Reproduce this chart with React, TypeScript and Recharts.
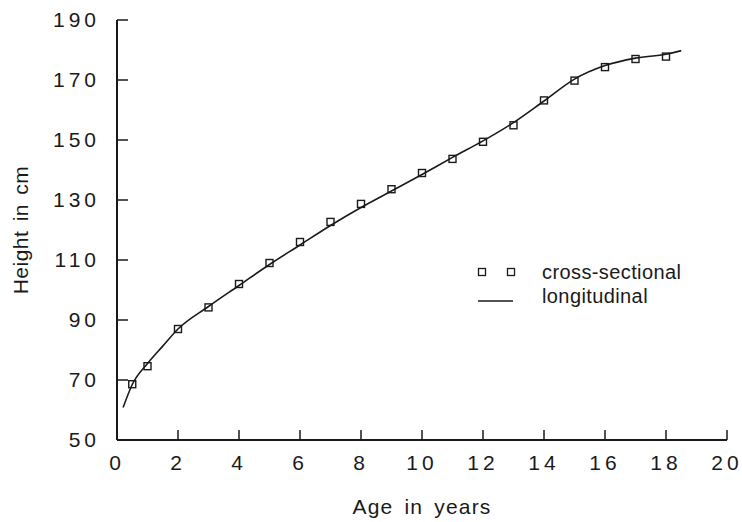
import { ComposedChart, Line, Scatter, XAxis, YAxis, Legend } from 'recharts';

// cross-sectional means (squares)
const crossAges = [0.5, 1, 2, 3, 4, 5, 6, 7, 8, 9, 10, 11, 12, 13, 14, 15, 16, 17, 18];
const crossHeights = [68.6, 74.6, 87, 94.2, 102, 109, 116, 122.7, 128.7, 133.6, 139, 143.7, 149.4, 154.9, 163.2, 169.8, 174.3, 177, 177.8];

// longitudinal curve
const longAges = [0.2, 0.5, 1, 1.5, 2, 3, 4, 5, 6, 7, 8, 9, 10, 11, 12, 13, 14, 15, 16, 17, 18, 18.5];
const longHeights = [60.8, 68.5, 75.5, 81.3, 87, 94.5, 101.5, 108.5, 115, 121.5, 127.5, 133, 138.5, 144.2, 149.7, 155.8, 163, 170.3, 174.8, 177.3, 178.6, 179.8];

const xTicks = [0, 2, 4, 6, 8, 10, 12, 14, 16, 18, 20];
const yTicks = [50, 70, 90, 110, 130, 150, 170, 190];

const crossData = crossAges.map((age, i) => ({ age, height: crossHeights[i] }));
const longData = longAges.map((age, i) => ({ age, height: longHeights[i] }));

const FONT = '"Liberation Sans", Arial, sans-serif';
const INK = '#1a1a1a';

const tickStyle = { fontSize: 21, fill: INK, fontFamily: FONT, letterSpacing: 4 };

const Square = (props: any) => {
    const { cx, cy } = props;
    if (cx == null || cy == null) return null;
    return <rect x={cx - 3.5} y={cy - 3.5} width={7} height={7} fill="none" stroke={INK} strokeWidth={1.4} />;
};

const LegendBox = () => (
    <div style={{ fontFamily: FONT, fontSize: 20, color: INK, letterSpacing: 0.4 }}>
        <div style={{ display: 'flex', alignItems: 'center', height: 24 }}>
            <svg width={72} height={24}>
                <rect x={8.5} y={8.5} width={7} height={7} fill="none" stroke={INK} strokeWidth={1.3} />
                <rect x={37.5} y={8.5} width={7} height={7} fill="none" stroke={INK} strokeWidth={1.3} />
            </svg>
            <span>cross-sectional</span>
        </div>
        <div style={{ display: 'flex', alignItems: 'center', height: 24 }}>
            <svg width={72} height={24}>
                <line x1={8} x2={43} y1={17} y2={17} stroke={INK} strokeWidth={1.5} />
            </svg>
            <span>longitudinal</span>
        </div>
    </div>
);

export default function App() {
    return (
        <div style={{ position: 'absolute', left: 0, top: 0, background: '#fff' }}>
            <ComposedChart width={742} height={522} margin={{ top: 20, right: 15, bottom: 0, left: 0 }}>
                <XAxis
                    type="number"
                    dataKey="age"
                    domain={[0, 20]}
                    ticks={xTicks}
                    interval={0}
                    height={82}
                    tickSize={-10}
                    tickMargin={25}
                    axisLine={{ stroke: INK, strokeWidth: 2 }}
                    tickLine={{ stroke: INK, strokeWidth: 1.5 }}
                    tick={tickStyle}
                    label={{
                        value: 'Age in years',
                        position: 'insideBottom',
                        offset: 8,
                        style: { fontSize: 21, fill: INK, fontFamily: FONT, letterSpacing: 1.2, wordSpacing: 4 }
                    }}
                />
                <YAxis
                    type="number"
                    domain={[50, 190]}
                    ticks={yTicks}
                    interval={0}
                    width={117}
                    tickSize={-11}
                    tickMargin={28}
                    axisLine={{ stroke: INK, strokeWidth: 2 }}
                    tickLine={{ stroke: INK, strokeWidth: 1.5 }}
                    tick={tickStyle}
                    label={{
                        value: 'Height in cm',
                        position: 'insideLeft',
                        angle: -90,
                        offset: 21,
                        style: { textAnchor: 'middle', fontSize: 21, fill: INK, fontFamily: FONT, letterSpacing: 0.5, wordSpacing: 3 }
                    }}
                />
                <Legend
                    layout="horizontal"
                    verticalAlign="middle"
                    align="center"
                    content={<LegendBox />}
                    wrapperStyle={{ left: 470, top: 260, width: 260 }}
                />
                <Line
                    data={longData}
                    dataKey="height"
                    name="longitudinal"
                    type="monotone"
                    stroke={INK}
                    strokeWidth={1.6}
                    dot={false}
                    activeDot={false}
                    isAnimationActive={false}
                />
                <Scatter
                    data={crossData}
                    dataKey="height"
                    name="cross-sectional"
                    shape={<Square />}
                    isAnimationActive={false}
                />
            </ComposedChart>
        </div>
    );
}
